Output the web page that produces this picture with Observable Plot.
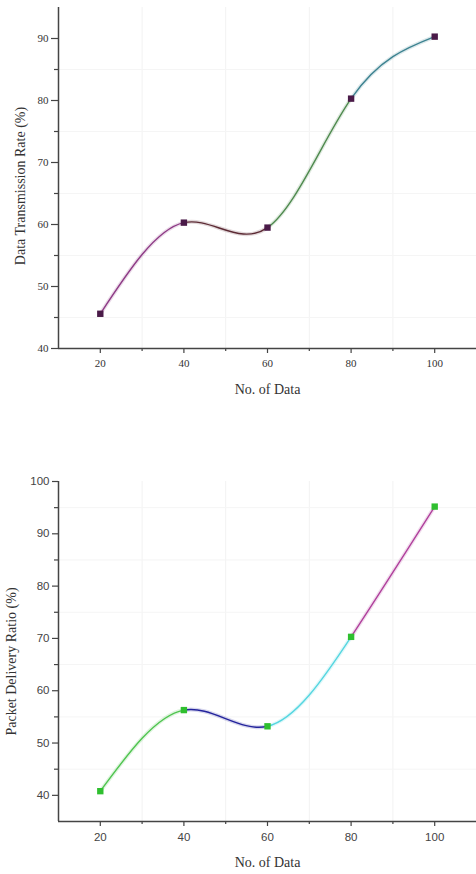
<!DOCTYPE html>
<html><head><meta charset="utf-8">
<script src="https://cdn.jsdelivr.net/npm/d3@7"></script>
<script src="https://cdn.jsdelivr.net/npm/@observablehq/plot@0.6"></script>
<style>html,body{margin:0;padding:0;background:#fff}#c svg{display:block}</style>
</head><body><div id="c"></div>
<script>
// ---- data ----
const numData = [20, 40, 60, 80, 100];
const transmissionRate = [45.6, 60.3, 59.5, 80.3, 90.3];
const deliveryRatio = [40.8, 56.3, 53.2, 70.3, 95.2];
const xTicks = [20, 40, 60, 80, 100];
const xMinorTicks = [30, 50, 70, 90];
const topYTicks = [40, 50, 60, 70, 80, 90];
const topYMinorTicks = [45, 55, 65, 75, 85];
const bottomYTicks = [40, 50, 60, 70, 80, 90, 100];
const bottomYMinorTicks = [45, 55, 65, 75, 85, 95];
const topSegmentColors = ["#8e3b86", "#5c2a34", "#4f8a4f", "#3c8290"];
const bottomSegmentColors = ["#4fc44f", "#24249c", "#55d6e0", "#b0409c"];
const xTitle = "No. of Data";
const topYTitle = "Data Transmission Rate (%)";
const bottomYTitle = "Packet Delivery Ratio (%)";

const W = 476, H = 437;
const serif = "'Liberation Serif', 'Times New Roman', serif";
const sans = "'Liberation Sans', Arial, sans-serif";

function chart(cfg) {
  const rows = numData.map((x, i) => ({x, y: cfg.values[i]}));
  const grad = `url(#${cfg.id})`;
  const svg = Plot.plot({
    width: W, height: H,
    marginLeft: 58, marginRight: 0, marginTop: cfg.marginTop, marginBottom: cfg.marginBottom,
    style: {background: "#fff", fontFamily: serif, overflow: "visible"},
    x: {domain: [10, 110]},
    y: {domain: cfg.yDomain},
    marks: [
      Plot.ruleX(xMinorTicks, {stroke: "#f2f2f2", strokeWidth: 1}),
      Plot.ruleY(cfg.yMinor, {stroke: "#f5f5f5", strokeWidth: 1}),
      Plot.axisX(xMinorTicks, {tickSize: 3, tickFormat: () => "", stroke: "#444", strokeWidth: 1.2, label: null}),
      Plot.axisY(cfg.yMinor, {tickSize: 4, tickFormat: () => "", stroke: "#444", strokeWidth: 1.2, label: null}),
      Plot.axisX(xTicks, {tickSize: 5, tickPadding: cfg.xPad, fontSize: cfg.tickFont, fontFamily: cfg.tickFamily, color: cfg.tickColor, stroke: "#444", strokeWidth: 1.2, label: null, tickFormat: d => d}),
      Plot.axisY(cfg.yTicks, {tickSize: cfg.ySize, tickPadding: cfg.yPad, fontSize: cfg.tickFont, fontFamily: cfg.tickFamily, color: cfg.tickColor, stroke: "#444", strokeWidth: 1.2, label: null, tickFormat: d => d}),
      Plot.ruleX([10], {stroke: "#444", strokeWidth: 1.5}),
      Plot.ruleY([cfg.yDomain[0]], {stroke: "#444", strokeWidth: 1.5}),
      Plot.line(rows, {x: "x", y: "y", curve: "natural", stroke: grad, strokeWidth: 4, strokeOpacity: 0.18}),
      Plot.line(rows, {x: "x", y: "y", curve: "natural", stroke: grad, strokeWidth: 1.4}),
      Plot.dot(rows, {x: "x", y: "y", symbol: "square", r: 3.6, fill: cfg.markerColor, stroke: "none"}),
      Plot.text([xTitle], {frameAnchor: "bottom", text: d => d, dy: 41, fontSize: 14, fontFamily: serif, fill: "#333", textAnchor: "middle", lineAnchor: "middle"}),
      Plot.text([cfg.yTitle], {frameAnchor: "left", text: d => d, rotate: -90, dx: cfg.yTitleDx, dy: cfg.yTitleDy, fontSize: 14, fontFamily: serif, fill: "#333", textAnchor: "middle", lineAnchor: "middle"})
    ]
  });
  // segment-coloured stroke through a hard-stop gradient positioned with the x scale
  const sx = svg.scale("x");
  const px = numData.map(v => sx.apply(v));
  const ns = "http://www.w3.org/2000/svg";
  const defs = document.createElementNS(ns, "defs");
  const lg = document.createElementNS(ns, "linearGradient");
  lg.setAttribute("id", cfg.id);
  lg.setAttribute("gradientUnits", "userSpaceOnUse");
  lg.setAttribute("x1", px[0]); lg.setAttribute("x2", px[px.length - 1]);
  lg.setAttribute("y1", 0); lg.setAttribute("y2", 0);
  const span = px[px.length - 1] - px[0];
  cfg.colors.forEach((c, i) => {
    [px[i], px[i + 1]].forEach(p => {
      const s = document.createElementNS(ns, "stop");
      s.setAttribute("offset", ((p - px[0]) / span).toFixed(5));
      s.setAttribute("stop-color", c);
      lg.appendChild(s);
    });
  });
  defs.appendChild(lg);
  svg.insertBefore(defs, svg.firstChild);
  return svg;
}

const c = document.getElementById("c");
c.appendChild(chart({
  id: "gTop", values: transmissionRate, yDomain: [40, 95], yTicks: topYTicks, yMinor: topYMinorTicks,
  marginTop: 7, marginBottom: 89, colors: topSegmentColors, markerColor: "#4a1a48",
  tickFont: 11, tickFamily: serif, tickColor: "#333", xPad: 6, ySize: 7, yPad: 3,
  yTitle: topYTitle, yTitleDx: -38, yTitleDy: 8
}));
c.appendChild(chart({
  id: "gBot", values: deliveryRatio, yDomain: [35, 100], yTicks: bottomYTicks, yMinor: bottomYMinorTicks,
  marginTop: 44, marginBottom: 53, colors: bottomSegmentColors, markerColor: "#2fbf2f",
  tickFont: 11.5, tickFamily: sans, tickColor: "#444", xPad: 6, ySize: 6, yPad: 3,
  yTitle: bottomYTitle, yTitleDx: -47, yTitleDy: 10
}));
</script>
</body></html>
